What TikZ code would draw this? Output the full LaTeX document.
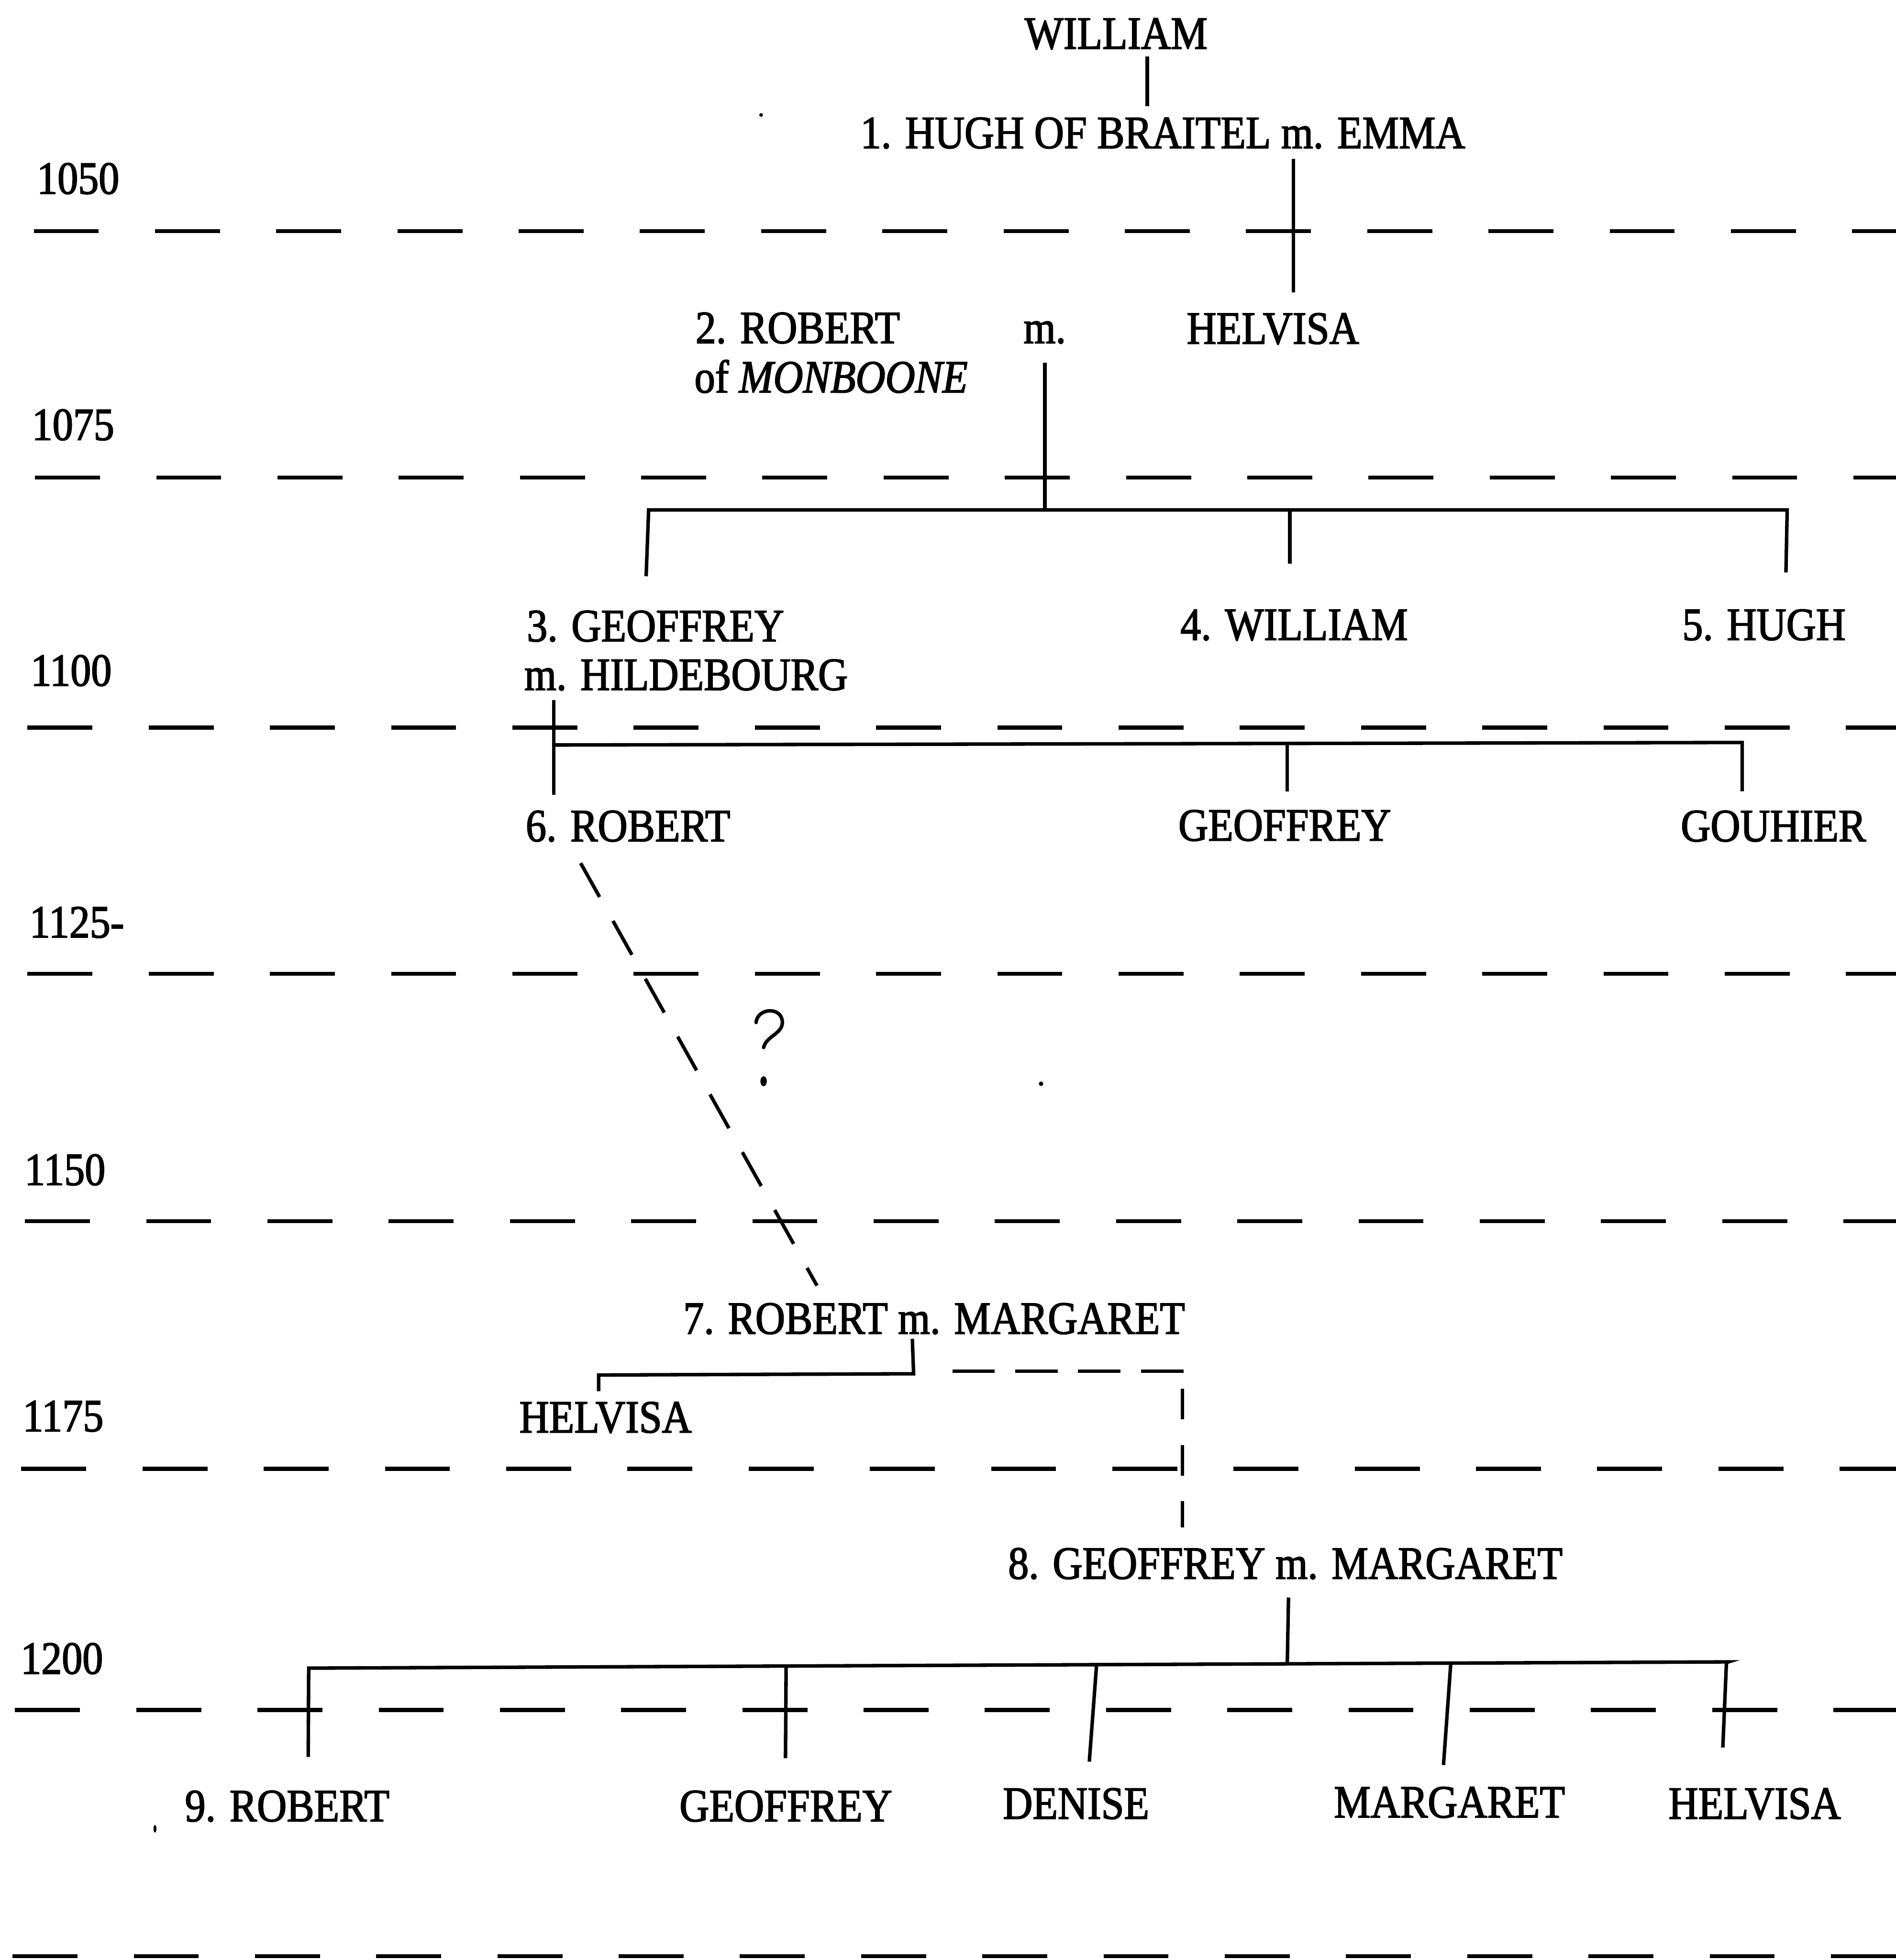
\documentclass[tikz,border=0pt]{standalone}
\usepackage{fontspec}
\setmainfont[FakeStretch=0.89,FakeBold=2]{Liberation Serif}
\newcommand\namefont{\fontsize{37}{40}\selectfont}
\tikzset{
  yearline/.style={line width=3.2pt, dash pattern=on 52pt off 45pt},
  kin/.style={line width=2.8pt},
  kindash/.style={line width=2.8pt, dash pattern=on 31pt off 22pt},
  lbl/.style={inner sep=0pt, anchor=base, font=\namefont},
  speck/.style={fill=black, draw=none}
}
\begin{document}
\begin{tikzpicture}[x=1pt,y=-1pt]
\path[use as bounding box] (0,0) rectangle (1517,1568);
% time lines
\foreach \s/\y in {27/185, 28/382, 22/582, 22/779, 20/977, 17/1175, 12/1368, 10/1565}
  \draw[yearline] (\s,\y) -- (1517,\y);
% year labels
\node[lbl] (y1050) at (62.5,155) {1050};
\node[lbl] (y1075) at (58.5,352) {1075};
\node[lbl] (y1100) at (57,548.6) {1100};
\node[lbl] (y1125) at (61.5,750) {1125-};
\node[lbl] (y1150) at (52,948) {1150};
\node[lbl] (y1175) at (50.5,1145) {1175};
\node[lbl] (y1200) at (49.5,1339) {1200};
% names
\node[lbl] (william0) at (893,39) {WILLIAM};
\node[lbl] (hugh1) at (930.5,118.5) {1. HUGH OF BRAITEL m. EMMA};
\node[lbl] (helvisa1) at (1018.5,275) {HELVISA};
\node[lbl] (robert2) at (638.3,274.5) {2. ROBERT};
\node[lbl] (m2) at (836,274.5) {m.};
\node[lbl] (monboone) at (665,314) {of \textit{MONBOONE}};
\node[lbl] (geoffrey3) at (524.5,513) {3. GEOFFREY};
\node[lbl] (hildebourg) at (549,552) {m. HILDEBOURG};
\node[lbl] (william4) at (1035.5,512) {4. WILLIAM};
\node[lbl] (hugh5) at (1411.5,512) {5. HUGH};
\node[lbl] (robert6) at (502.5,673) {6. ROBERT};
\node[lbl] (geoffreyB) at (1028,672.5) {GEOFFREY};
\node[lbl] (gouhier) at (1419,673) {GOUHIER};
\node[lbl] (robert7) at (747.5,1067) {7. ROBERT m. MARGARET};
\node[lbl] (helvisa7) at (484.5,1146) {HELVISA};
\node[lbl] (geoffrey8) at (1028.5,1263) {8. GEOFFREY m. MARGARET};
\node[lbl] (robert9) at (229.8,1457) {9. ROBERT};
\node[lbl] (geoffrey9) at (628.8,1457) {GEOFFREY};
\node[lbl] (denise) at (861,1455) {DENISE};
\node[lbl] (margaret9) at (1159.8,1454) {MARGARET};
\node[lbl] (helvisa9) at (1404,1455) {HELVISA};
% junction coordinates
\coordinate (a1) at (918,45);   \coordinate (a2) at (918,85);
\coordinate (b1) at (1035,127); \coordinate (b2) at (1035,234);
\coordinate (c1) at (836,290);  \coordinate (c2) at (836,408);
\coordinate (cL) at (519,408);  \coordinate (cR) at (1430,408);
\coordinate (cLd) at (517,461); \coordinate (cM) at (1032,408); \coordinate (cMd) at (1032,451);
\coordinate (cRd) at (1429,458);
\coordinate (d1) at (443,560);  \coordinate (d2) at (443,636);
\coordinate (dL) at (443,596);  \coordinate (dR) at (1394,594);
\coordinate (dM) at (1030,595); \coordinate (dMd) at (1030,633); \coordinate (dRd) at (1394,633);
\coordinate (e1) at (464.6,690.5); \coordinate (e2) at (653.7,1028.5);
\coordinate (f1) at (730,1071); \coordinate (f2) at (731,1099);
\coordinate (fL) at (479,1100); \coordinate (fLd) at (479,1113);
\coordinate (g1) at (762,1097); \coordinate (g2) at (947,1097);
\coordinate (g3) at (946,1111); \coordinate (g4) at (946,1222);
\coordinate (h1) at (1031,1278); \coordinate (h2) at (1030,1331);
\coordinate (hL) at (247,1334.5); \coordinate (hR) at (1383,1329.5);
\coordinate (k1) at (246.6,1405.5);
\coordinate (k2t) at (629,1333); \coordinate (k2) at (628.5,1406.6);
\coordinate (k3t) at (877.4,1332); \coordinate (k3) at (871.6,1409.3);
\coordinate (k4t) at (1160.8,1331); \coordinate (k4) at (1155,1412);
\coordinate (k5t) at (1381.4,1330); \coordinate (k5) at (1378.5,1398);
% connectors
\draw[kin] (a1) -- (a2);
\draw[kin] (b1) -- (b2);
\draw[kin] (c1) -- (c2);
\draw[kin] (cLd) -- (cL) -- (cR) -- (cRd);
\draw[kin] (cM) -- (cMd);
\draw[kin] (d1) -- (d2);
\draw[kin] (dL) -- (dR) -- (dRd);
\draw[kin] (dM) -- (dMd);
\draw[kindash] (e1) -- (e2);
\draw[kin] (f1) -- (f2) -- (fL) -- (fLd);
\draw[kin, dash pattern=on 34pt off 16.3pt] (g1) -- (g2);
\draw[kin, dash pattern=on 24.5pt off 20.5pt] (g3) -- (g4);
\draw[kin] (h1) -- (h2);
\draw[kin] (k1) -- (hL) -- (hR) -- (k5t) -- (k5);
\draw[kin] (k2t) -- (k2);
\draw[kin] (k3t) -- (k3);
\draw[kin] (k4t) -- (k4);
% question mark
\draw[line width=2.8pt, line cap=round] (605,818) .. controls (606,806) and (626,805) .. (626,818) .. controls (626,827) and (613,829) .. (611,838);
\fill (611,865) ellipse (2.6 and 4);
% specks
\fill[speck] (609,92) circle (1.5);
\fill[speck] (833,867) circle (1.8);
\fill[speck] (124,1463) ellipse (1.2 and 3);
\end{tikzpicture}
\end{document}
